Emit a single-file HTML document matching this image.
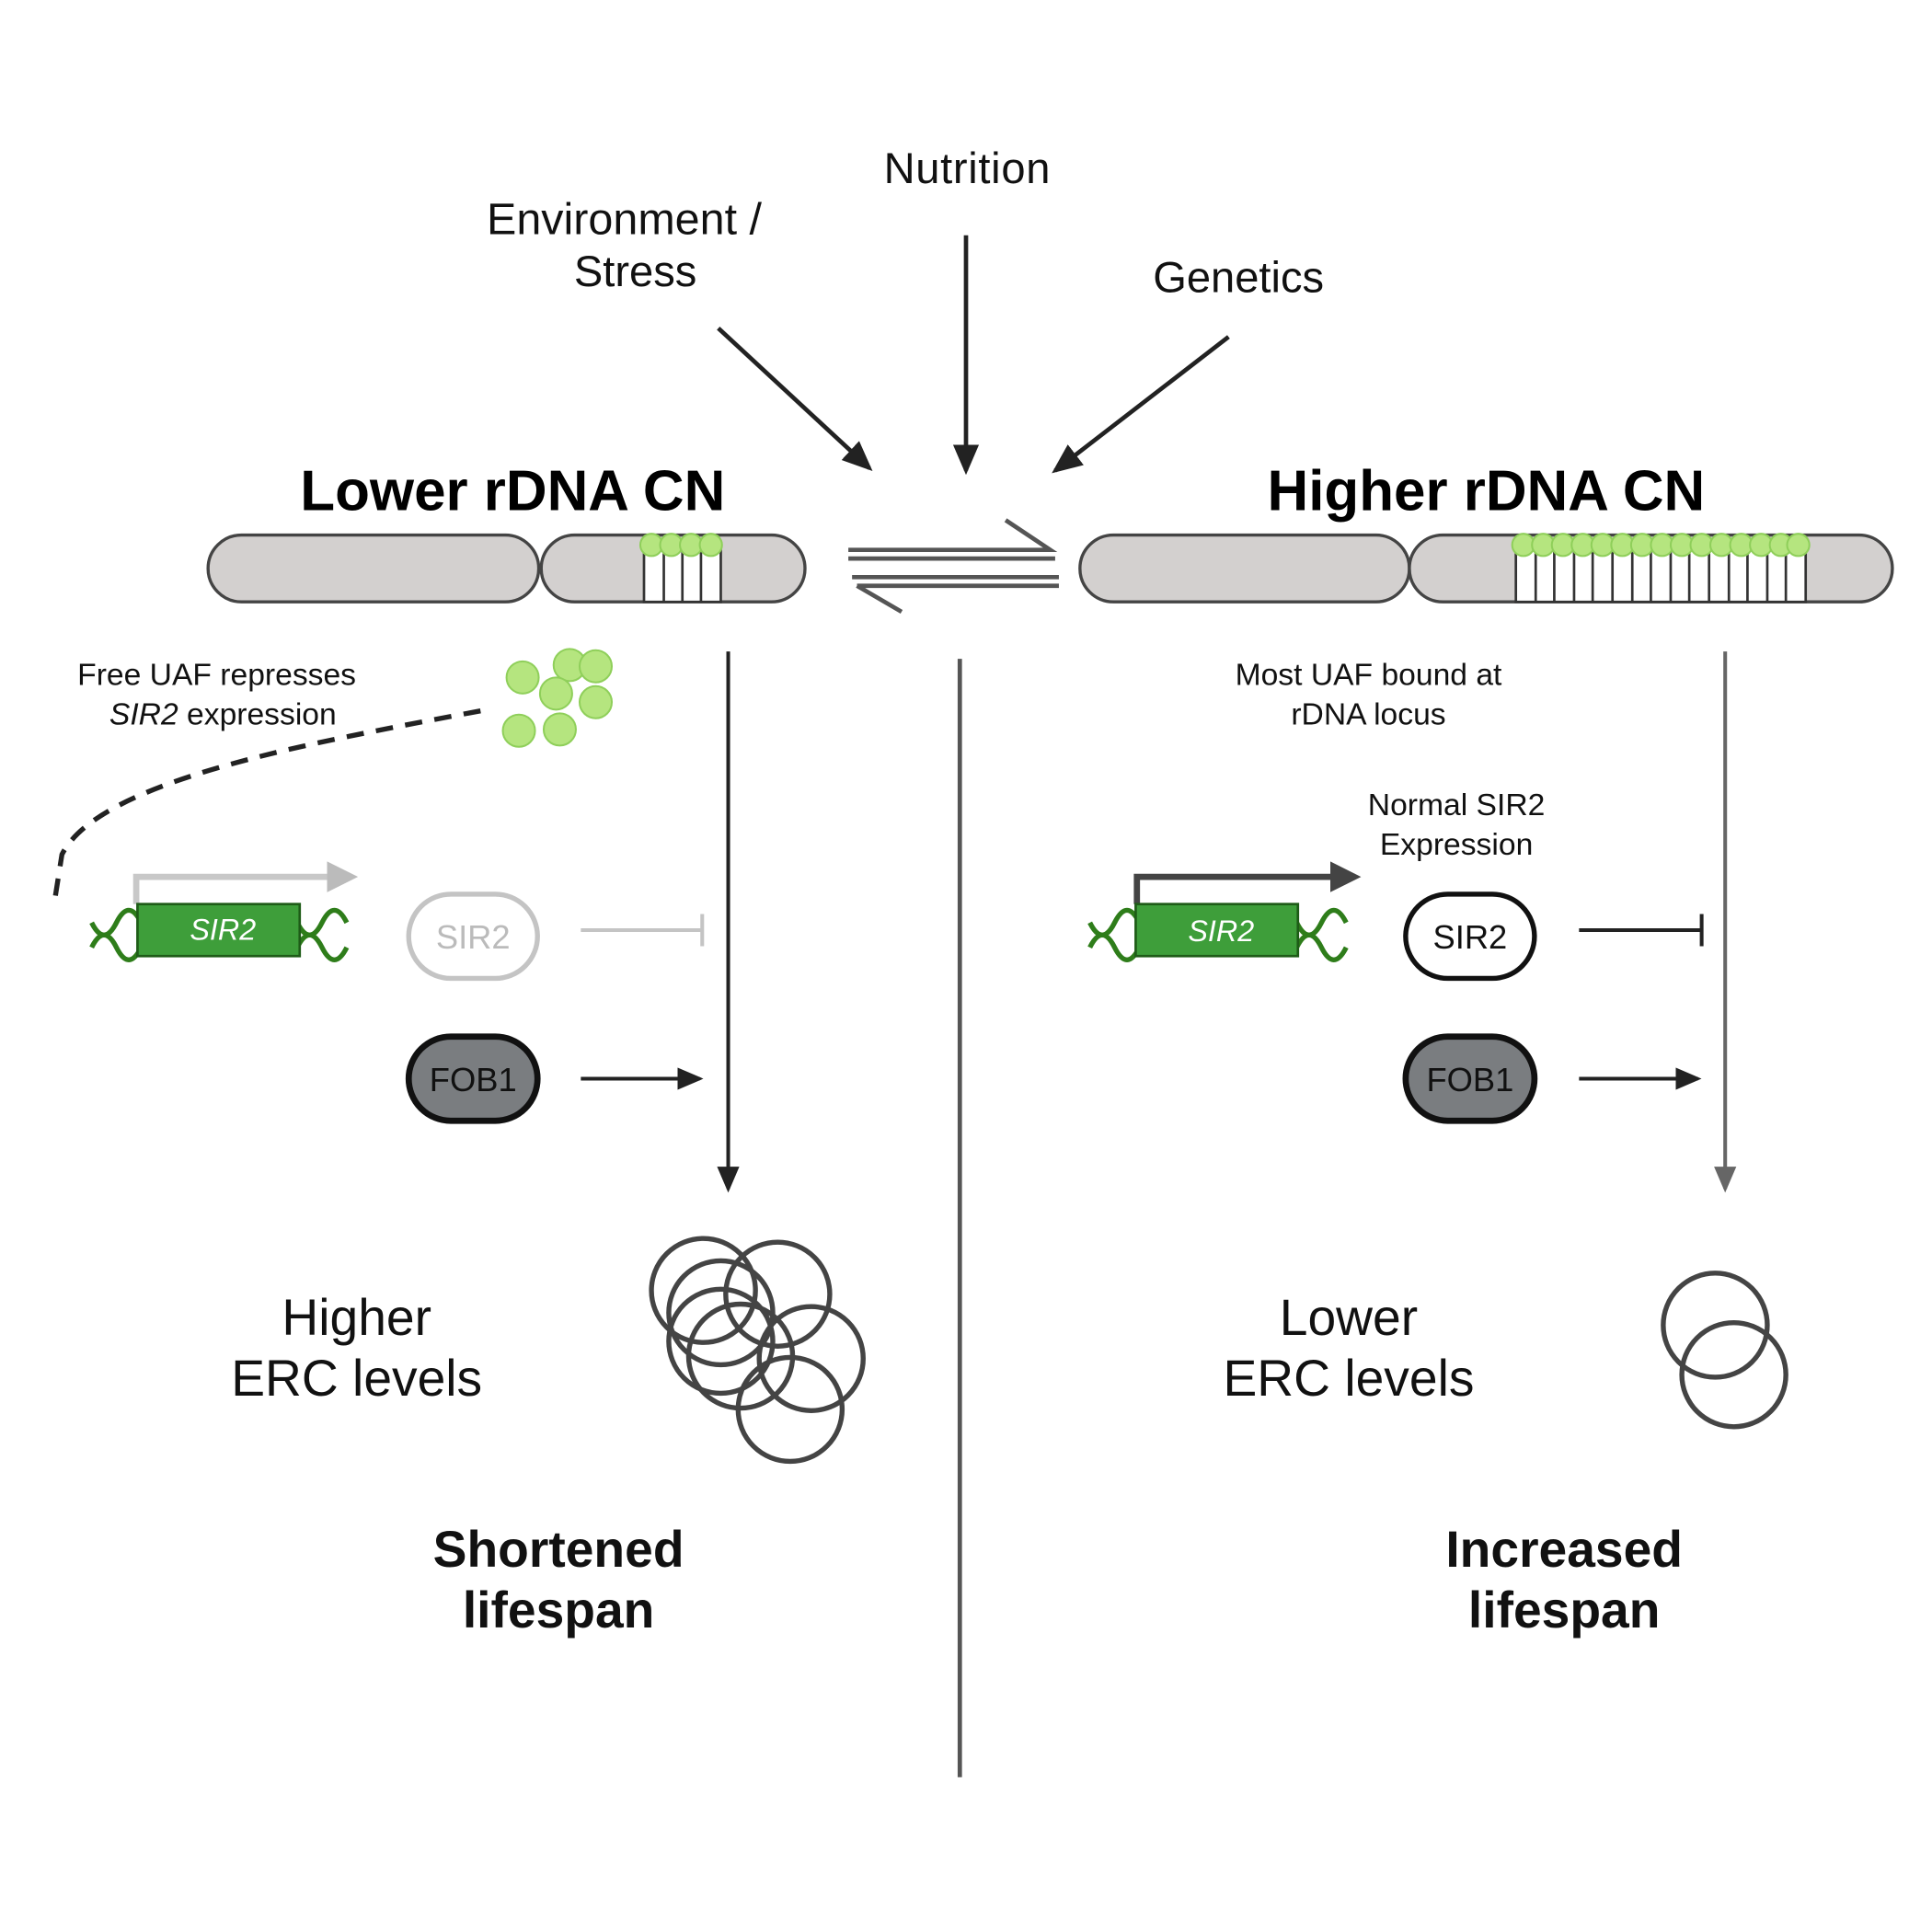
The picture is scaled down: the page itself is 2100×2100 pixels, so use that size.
<!DOCTYPE html>
<html><head><meta charset="utf-8"><style>html,body{margin:0;padding:0;background:#fff}svg{display:block}text{font-family:"Liberation Sans",sans-serif}</style></head>
<body>
<svg width="2100" height="2100" viewBox="0 0 1560 1560" xmlns="http://www.w3.org/2000/svg">
<defs>
<marker id="ah" markerWidth="7" markerHeight="6" refX="6" refY="3" orient="auto" markerUnits="strokeWidth"><path d="M0,0 L7,3 L0,6z" fill="#222"/></marker>
<marker id="ahg" markerWidth="7" markerHeight="6" refX="6" refY="3" orient="auto" markerUnits="strokeWidth"><path d="M0,0 L7,3 L0,6z" fill="#666"/></marker>
<marker id="ahl" markerWidth="5" markerHeight="5" refX="4" refY="2.5" orient="auto" markerUnits="strokeWidth"><path d="M0,0 L5,2.5 L0,5z" fill="#bbb"/></marker>
<marker id="ahd" markerWidth="5" markerHeight="5" refX="4" refY="2.5" orient="auto" markerUnits="strokeWidth"><path d="M0,0 L5,2.5 L0,5z" fill="#444"/></marker>
</defs>
<g font-size="35" fill="#111">
<text x="781" y="148" text-anchor="middle" letter-spacing="0.5">Nutrition</text>
<text x="393" y="189" font-size="36">Environment  /</text>
<text x="513" y="231" text-anchor="middle">Stress</text>
<text x="1000" y="236" text-anchor="middle">Genetics</text>
</g>
<g stroke="#222" stroke-width="3.5">
<line x1="580" y1="265" x2="702" y2="378" marker-end="url(#ah)"/>
<line x1="780" y1="190" x2="780" y2="380" marker-end="url(#ah)"/>
<line x1="992" y1="272" x2="852" y2="380" marker-end="url(#ah)"/>
</g>
<text x="414" y="412" text-anchor="middle" font-size="46" font-weight="bold">Lower rDNA CN</text>
<text x="1200" y="412" text-anchor="middle" font-size="46" font-weight="bold">Higher rDNA CN</text>
<g fill="#d3d0cf" stroke="#444" stroke-width="2.5">
<rect x="168" y="432" width="267" height="54" rx="27"/>
<rect x="437" y="432" width="213" height="54" rx="27"/>
<rect x="520" y="440" width="62" height="46" fill="#fff" stroke="#333" stroke-width="2"/>
<path d="M536,440V486M551,440V486M566,440V486" stroke="#333" stroke-width="2"/>
<g fill="#b5e57f" stroke="#8fcf5a" stroke-width="1.5"><circle cx="526" cy="440" r="9"/><circle cx="542" cy="440" r="9"/><circle cx="558" cy="440" r="9"/><circle cx="574" cy="440" r="9"/></g>
</g>
<g fill="#d3d0cf" stroke="#444" stroke-width="2.5">
<rect x="872" y="432" width="266" height="54" rx="27"/>
<rect x="1138" y="432" width="390" height="54" rx="27"/>
<rect x="1224" y="440" width="234" height="46" fill="#fff" stroke="#333" stroke-width="2"/>
<path d="M1240,440V486M1255,440V486M1271,440V486M1286,440V486M1302,440V486M1318,440V486M1333,440V486M1349,440V486M1364,440V486M1380,440V486M1396,440V486M1411,440V486M1427,440V486M1442,440V486" stroke="#333" stroke-width="2"/>
<g fill="#b5e57f" stroke="#8fcf5a" stroke-width="1.5">
<circle cx="1230" cy="440" r="9"/><circle cx="1246" cy="440" r="9"/><circle cx="1262" cy="440" r="9"/><circle cx="1278" cy="440" r="9"/><circle cx="1294" cy="440" r="9"/><circle cx="1310" cy="440" r="9"/><circle cx="1326" cy="440" r="9"/><circle cx="1342" cy="440" r="9"/><circle cx="1358" cy="440" r="9"/><circle cx="1374" cy="440" r="9"/><circle cx="1390" cy="440" r="9"/><circle cx="1406" cy="440" r="9"/><circle cx="1422" cy="440" r="9"/><circle cx="1438" cy="440" r="9"/><circle cx="1452" cy="440" r="9"/></g>
</g>
<g fill="none" stroke="#555" stroke-width="3.5">
<path d="M685,444H848L812,420M685,451H852"/>
<path d="M688,466H855M692,473H855M692,473L728,494"/>
</g>
<line x1="775" y1="532" x2="775" y2="1435" stroke="#555" stroke-width="3.5"/>
<line x1="588" y1="526" x2="588" y2="960" stroke="#222" stroke-width="3" marker-end="url(#ah)"/>
<line x1="1393" y1="526" x2="1393" y2="960" stroke="#666" stroke-width="3" marker-end="url(#ahg)"/>
<g font-size="25" fill="#111">
<text x="175" y="553" text-anchor="middle">Free UAF represses</text>
<text x="180" y="585" text-anchor="middle"><tspan font-style="italic">SIR2</tspan> expression</text>
<text x="1105" y="553" text-anchor="middle">Most UAF bound at</text>
<text x="1105" y="585" text-anchor="middle">rDNA locus</text>
<text x="1176" y="658" text-anchor="middle">Normal SIR2</text>
<text x="1176" y="690" text-anchor="middle">Expression</text>
</g>
<g fill="#b5e57f" stroke="#8fcf5a" stroke-width="1.5">
<circle cx="422" cy="547" r="13"/><circle cx="460" cy="537" r="13"/><circle cx="481" cy="538" r="13"/><circle cx="449" cy="560" r="13"/><circle cx="481" cy="567" r="13"/><circle cx="419" cy="590" r="13"/><circle cx="452" cy="589" r="13"/>
</g>
<path d="M388,574 C250,600 80,630 50,690 L44,728" fill="none" stroke="#222" stroke-width="4" stroke-dasharray="14,10"/>
<g>
<path d="M110,730V708H284" fill="none" stroke="#c8c8c8" stroke-width="5" marker-end="url(#ahl)"/>
<path d="M74,745 q10,20 20,0 t20,0 M74,765 q10,-20 20,0 t20,0 M240,745 q10,20 20,0 t20,0 M240,765 q10,-20 20,0 t20,0" fill="none" stroke="#2e7d1a" stroke-width="4"/>
<rect x="111" y="730" width="131" height="42" fill="#3e9e3a" stroke="#1e5c17" stroke-width="2"/>
<text x="180" y="759" text-anchor="middle" font-size="24" font-style="italic" fill="#fff">SIR2</text>
</g>
<g>
<path d="M918,730V708H1094" fill="none" stroke="#444" stroke-width="5" marker-end="url(#ahd)"/>
<path d="M880,745 q10,20 20,0 t20,0 M880,765 q10,-20 20,0 t20,0 M1047,745 q10,20 20,0 t20,0 M1047,765 q10,-20 20,0 t20,0" fill="none" stroke="#2e7d1a" stroke-width="4"/>
<rect x="917" y="730" width="131" height="42" fill="#3e9e3a" stroke="#1e5c17" stroke-width="2"/>
<text x="986" y="760" text-anchor="middle" font-size="24" font-style="italic" fill="#fff">SIR2</text>
</g>
<g>
<rect x="330" y="722" width="104" height="68" rx="34" fill="#fff" stroke="#c4c4c4" stroke-width="4"/>
<text x="382" y="766" text-anchor="middle" font-size="27" fill="#bbb">SIR2</text>
<path d="M469,751H567M567,738V764" stroke="#c4c4c4" stroke-width="3" fill="none"/>
</g>
<g>
<rect x="330" y="837" width="104" height="68" rx="34" fill="#7a7d80" stroke="#111" stroke-width="5"/>
<text x="382" y="881" text-anchor="middle" font-size="27" fill="#111">FOB1</text>
<line x1="469" y1="871" x2="565" y2="871" stroke="#222" stroke-width="3" marker-end="url(#ah)"/>
</g>
<g>
<rect x="1135" y="722" width="104" height="68" rx="34" fill="#fff" stroke="#111" stroke-width="4"/>
<text x="1187" y="766" text-anchor="middle" font-size="27" fill="#111">SIR2</text>
<path d="M1275,751H1374M1374,738V764" stroke="#222" stroke-width="3" fill="none"/>
</g>
<g>
<rect x="1135" y="837" width="104" height="68" rx="34" fill="#7a7d80" stroke="#111" stroke-width="5"/>
<text x="1187" y="881" text-anchor="middle" font-size="27" fill="#111">FOB1</text>
<line x1="1275" y1="871" x2="1371" y2="871" stroke="#222" stroke-width="3" marker-end="url(#ah)"/>
</g>
<g font-size="41" fill="#111" text-anchor="middle">
<text x="288" y="1078">Higher</text>
<text x="288" y="1127">ERC levels</text>
<text x="1089" y="1078">Lower</text>
<text x="1089" y="1127">ERC levels</text>
</g>
<g fill="none" stroke="#444" stroke-width="4">
<circle cx="568" cy="1042" r="42"/><circle cx="628" cy="1045" r="42"/><circle cx="582" cy="1060" r="42"/><circle cx="582" cy="1083" r="42"/><circle cx="598" cy="1095" r="42"/><circle cx="655" cy="1097" r="42"/><circle cx="638" cy="1138" r="42"/>
</g>
<g fill="none" stroke="#444" stroke-width="4">
<circle cx="1385" cy="1070" r="42"/><circle cx="1400" cy="1110" r="42"/>
</g>
<g font-size="41" font-weight="bold" fill="#111" text-anchor="middle">
<text x="451" y="1265">Shortened</text>
<text x="451" y="1314">lifespan</text>
<text x="1263" y="1265">Increased</text>
<text x="1263" y="1314">lifespan</text>
</g>
</svg>
</body></html>
